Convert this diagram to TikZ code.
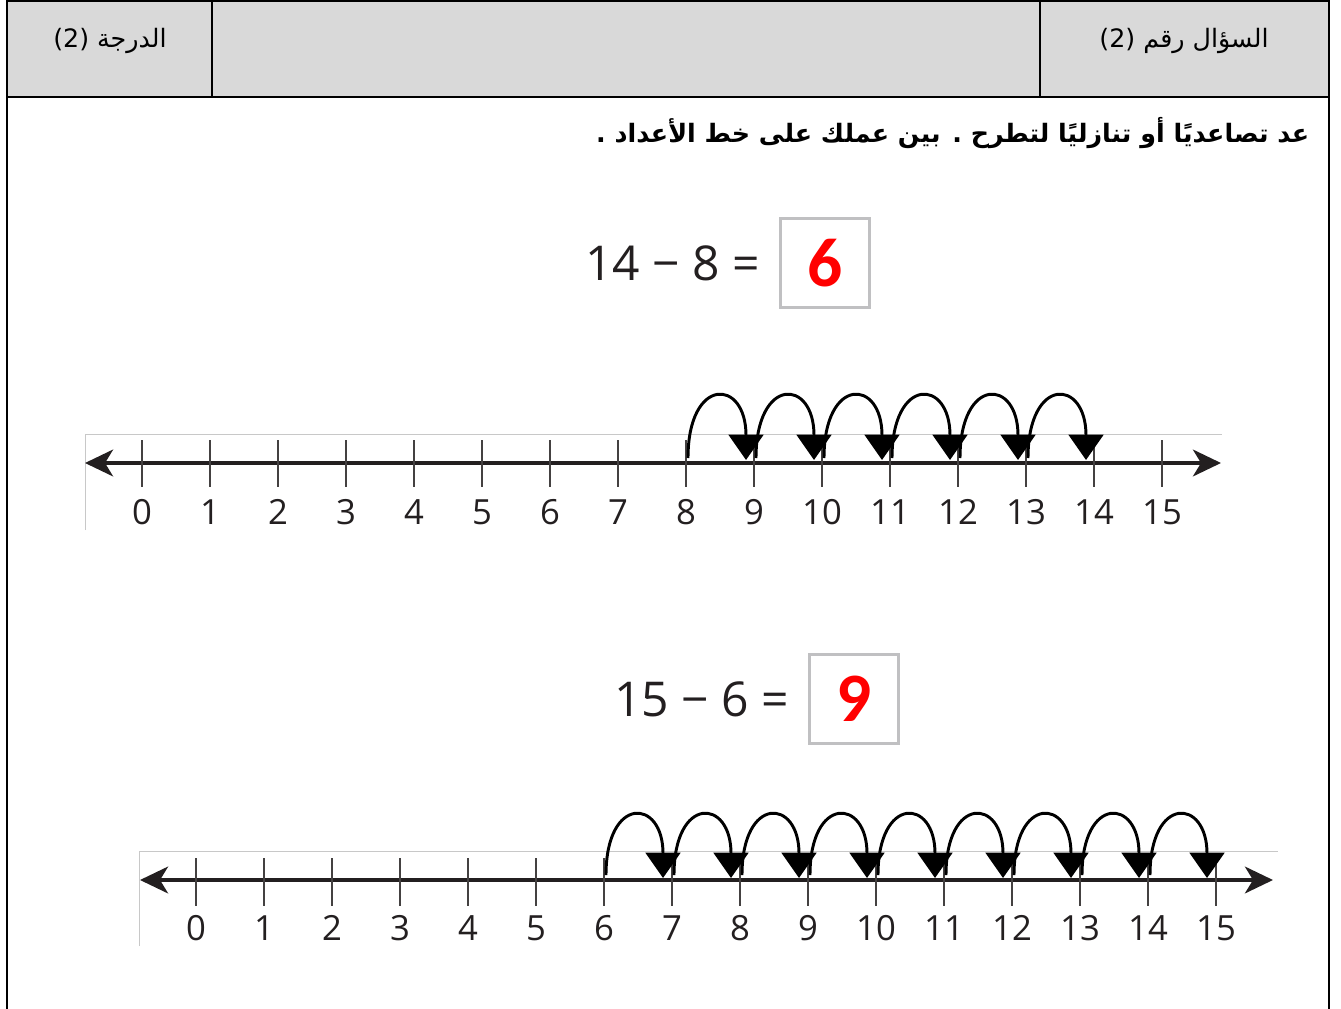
\documentclass[tikz,border=0pt]{standalone}
\usepackage{fontspec}
\usepackage{xcolor}
\usetikzlibrary{arrows.meta,calc,positioning}
\TeXXeTstate=1
\newfontfamily\arabicfont[Script=Arabic]{DejaVu Sans}
\newfontfamily\numfont{Open Sans}
\newfontfamily\answerfont{Carlito}
\definecolor{headgray}{HTML}{D9D9D9}
\definecolor{inkgray}{HTML}{231F20}
\definecolor{boxgray}{HTML}{C0C0C2}
\definecolor{edgegray}{HTML}{C8C8C8}

\tikzset{
  numline/.style={line width=3pt, color=inkgray,
    {Stealth[length=21pt,width=20pt,inset=6pt]}-{Stealth[length=21pt,width=20pt,inset=6pt]}},
  ticksty/.style={line width=1.8pt, color=inkgray!85},
  numlabel/.style={font=\numfont\fontsize{26}{26}\selectfont, color=inkgray, inner sep=0pt},
  hop/.style={line width=2.2pt, -{Triangle[length=19pt,width=26pt]}},
  ansbox/.style={draw=boxgray, line width=2.4pt, minimum size=67pt, inner sep=0pt,
    font=\answerfont\bfseries\fontsize{52}{52}\selectfont, text=red},
  eqtext/.style={font=\numfont\fontsize{36}{36}\selectfont, color=inkgray, inner sep=0pt},
  imgedge/.style={draw=edgegray, line width=0.6pt},
  headtext/.style={font=\arabicfont\fontsize{19}{19}\selectfont}
}

\begin{document}
\begin{tikzpicture}[x=0.75pt,y=-0.75pt]
  \useasboundingbox (0,0) rectangle (1341,1009);

  % header row
  \fill[headgray] (8,2) rectangle (1328,97);
  \draw[line width=1.5pt] (7,1) -- (1329,1) (7,0) -- (7,1009) (1329,0) -- (1329,1009);
  \draw[line width=2.2pt] (7,97) -- (1329,97);
  \draw[line width=2.2pt] (212,1) -- (212,97) (1040,1) -- (1040,97);
  \node[headtext] (grade) at (110,41) {\beginR الدرجة \beginL(2)\endL\endR};
  \node[headtext] (qnum) at (1184,41) {\beginR السؤال رقم \beginL(2)\endL\endR};

  % instruction
  \node[font=\arabicfont\bfseries\fontsize{19}{19}\selectfont, anchor=east] (task) at (1314,133)
    {\beginR عد تصاعديًا أو تنازليًا لتطرح . بين عملك على خط الأعداد .\endR};

  % first subtraction
  \node[ansbox] (box1) at (825,263) {6};
  \node[eqtext, left=14pt of box1] (eq1) {14 − 8 =};

  % number line 1
  \coordinate (l1) at (85,463);
  \coordinate (r1) at (1221,463);
  \draw[imgedge] (85,530) -- (85,434) -- (1222,434);
  \draw[numline] (l1) -- (r1);
  \foreach \n in {0,...,15} {
    \coordinate (a\n) at ({142+68*\n},463);
    \draw[ticksty] ($(a\n)+(0,-23)$) -- ($(a\n)+(0,24)$);
    \node[numlabel] (la\n) at ($(a\n)+(0,49)$) {\n};
  }
  \foreach \s/\e in {8/9,9/10,10/11,11/12,12/13,13/14}
    \draw[hop] ($(a\s)+(2,-5)$) .. controls +(0,-82) and +(0,-82) .. ($(a\e)+(-8,-3)$);

  % second subtraction
  \node[ansbox] (box2) at (854,699) {9};
  \node[eqtext, left=14pt of box2] (eq2) {15 − 6 =};

  % number line 2
  \coordinate (l2) at (140,880);
  \coordinate (r2) at (1273,880);
  \draw[imgedge] (139,946) -- (139,851) -- (1278,851);
  \draw[numline] (l2) -- (r2);
  \foreach \n in {0,...,15} {
    \coordinate (b\n) at ({196+68*\n},880);
    \draw[ticksty] ($(b\n)+(0,-22)$) -- ($(b\n)+(0,26)$);
    \node[numlabel] (lb\n) at ($(b\n)+(0,48)$) {\n};
  }
  \foreach \s/\e in {6/7,7/8,8/9,9/10,10/11,11/12,12/13,13/14,14/15}
    \draw[hop] ($(b\s)+(2,-5)$) .. controls +(0,-80) and +(0,-80) .. ($(b\e)+(-9,-2)$);
\end{tikzpicture}
\end{document}
